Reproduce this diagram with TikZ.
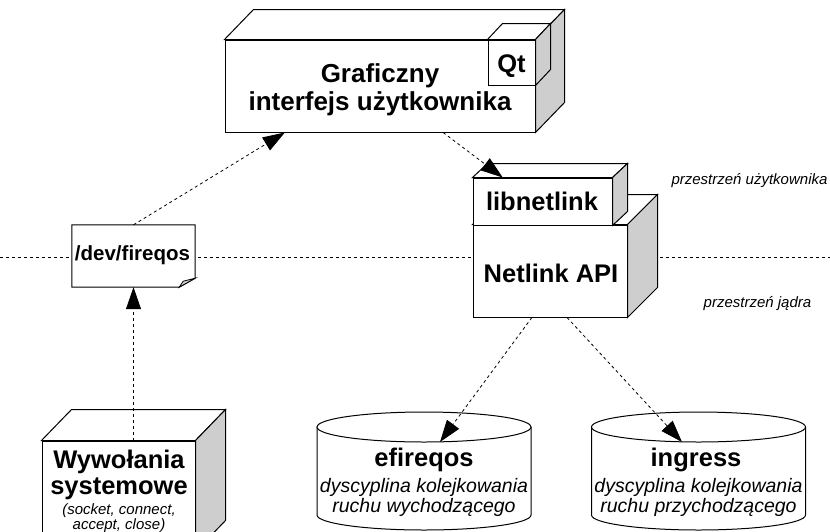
\documentclass[tikz,border=0pt]{standalone}
\usepackage{fontspec}
\setmainfont{Liberation Sans}
\usetikzlibrary{arrows.meta,calc}
\definecolor{sidegray}{RGB}{206,206,206}
\tikzset{
  face/.style={draw=black, line width=1pt, fill=white, line join=miter},
  sideface/.style={draw=black, line width=1pt, fill=sidegray, line join=miter},
  front/.style={draw=black, line width=1pt, fill=white, inner sep=0pt, rectangle},
  flow/.style={draw=black, line width=0.8pt, dash pattern=on 3pt off 3pt,
    -{Triangle[length=22pt,width=15pt]}},
  divider/.style={draw=black, line width=0.8pt, dash pattern=on 3.3pt off 2.7pt},
  bigtext/.style={font=\fontsize{25.5}{28}\selectfont\bfseries, inner sep=0pt, anchor=base},
  midtext/.style={font=\fontsize{20.5}{24}\selectfont\bfseries, inner sep=0pt, anchor=base},
  desc/.style={font=\fontsize{19.5}{22}\selectfont\itshape, inner sep=0pt, anchor=base},
  small/.style={font=\fontsize{15}{16}\selectfont\itshape, inner sep=0pt, anchor=base},
}
\begin{document}
\begin{tikzpicture}[x=1pt,y=-1pt]
\useasboundingbox (0,0) rectangle (830,531);

% boundary between user space and kernel space
\coordinate (wl) at (0,257);
\coordinate (wr) at (830,257);
\draw[divider] (wl) -- (wr);
\node[small] (user) at (749.5,184) {przestrzeń użytkownika};
\node[small] (kern) at (757.5,307) {przestrzeń jądra};

% GUI box
\node[front, minimum width=310pt, minimum height=92pt] (gui) at (380,86) {};
\draw[face] (gui.north west) -- ++(29,-30) -- ($(gui.north east)+(29,-30)$) -- (gui.north east) -- cycle;
\draw[sideface] (gui.north east) -- ++(29,-30) -- ($(gui.south east)+(29,-30)$) -- (gui.south east) -- cycle;
\node[bigtext, font=\fontsize{26}{28}\selectfont\bfseries] (guit1) at (380,82) {Graficzny};
\node[bigtext, font=\fontsize{26}{28}\selectfont\bfseries] (guit2) at (380,110) {interfejs użytkownika};

% Qt component
\node[front, minimum width=47pt, minimum height=45pt] (qt) at (511.5,62.5) {};
\draw[face] (qt.north west) -- ++(15,-16) -- ($(qt.north east)+(15,-16)$) -- (qt.north east) -- cycle;
\draw[sideface] (qt.north east) -- ++(15,-16) -- ($(qt.south east)+(15,-16)$) -- (qt.south east) -- cycle;
\node[bigtext] (qtt) at (511.5,72) {Qt};

% Netlink API box
\node[front, minimum width=154pt, minimum height=92pt] (api) at (550,271) {};
\draw[face] (api.north west) -- ++(30,-30) -- ($(api.north east)+(30,-30)$) -- (api.north east) -- cycle;
\draw[sideface] (api.north east) -- ++(30,-30) -- ($(api.south east)+(30,-30)$) -- (api.south east) -- cycle;
\node[bigtext] (apit) at (551,282) {Netlink API};

% libnetlink box
\node[front, minimum width=139pt, minimum height=47pt] (lib) at (542.5,201.5) {};
\draw[face] (lib.north west) -- ++(15,-14) -- ($(lib.north east)+(15,-14)$) -- (lib.north east) -- cycle;
\draw[sideface] (lib.north east) -- ++(15,-14) -- ($(lib.south east)+(15,-14)$) -- (lib.south east) -- cycle;
\node[bigtext] (libt) at (542,210) {libnetlink};

% /dev/fireqos note
\node[inner sep=0pt, minimum width=123pt, minimum height=62pt] (dev) at (133.5,256) {};
\draw[face] (dev.north west) -- (dev.north east) -- ($(dev.south east)+(0,-9)$)
  -- ($(dev.south east)+(-16,0)$) -- (dev.south west) -- cycle;
\draw[sideface, line width=0.8pt] ($(dev.south east)+(0,-9)$) -- ($(dev.south east)+(-16,0)$)
  -- ($(dev.south east)+(-12,-6)$) -- cycle;
\node[midtext] (devt) at (132.5,260) {/dev/fireqos};

% system calls box
\node[front, minimum width=153pt, minimum height=110pt] (wy) at (118.5,496) {};
\draw[face] (wy.north west) -- ++(30,-31) -- ($(wy.north east)+(30,-31)$) -- (wy.north east) -- cycle;
\draw[sideface] (wy.north east) -- ++(30,-31) -- ($(wy.south east)+(30,-31)$) -- (wy.south east) -- cycle;
\node[bigtext] (wyt1) at (119,468) {Wywołania};
\node[bigtext] (wyt2) at (119,494) {systemowe};
\node[small] (wyt3) at (119,514) {(socket, connect,};
\node[small] (wyt4) at (119,529) {accept, close)};

% queueing disciplines (cylinders)
\coordinate (efq) at (424,427);
\draw[face] ($(efq)+(-107,0)$) -- ($(efq)+(-107,88)$)
  arc[start angle=180, end angle=360, x radius=107pt, y radius=15pt] -- ($(efq)+(107,0)$);
\draw[face] (efq) ellipse[x radius=107pt, y radius=15pt];
\node[bigtext] (efqt) at (424,466) {efireqos};
\node[desc] (efqd1) at (424,492) {dyscyplina kolejkowania};
\node[desc] (efqd2) at (424,512) {ruchu wychodzącego};

\coordinate (ing) at (698.5,427);
\draw[face] ($(ing)+(-107,0)$) -- ($(ing)+(-107,88)$)
  arc[start angle=180, end angle=360, x radius=107pt, y radius=15pt] -- ($(ing)+(107,0)$);
\draw[face] (ing) ellipse[x radius=107pt, y radius=15pt];
\node[bigtext] (ingt) at (696,466) {ingress};
\node[desc] (ingd1) at (698.5,492) {dyscyplina kolejkowania};
\node[desc] (ingd2) at (698.5,512) {ruchu przychodzącego};

% dependencies
\draw[flow] (dev.north) -- ($(gui.south west)!0.194!(gui.south east)$);
\draw[flow] ($(gui.south west)!0.703!(gui.south east)$) -- ($(lib.north west)!0.216!(lib.north east)$);
\draw[flow] (dev.south |- wy.north) -- (dev.south);
\draw[flow] ($(api.south west)!0.383!(api.south east)$) -- ($(efq)+(16,15)$);
\draw[flow] ($(api.south west)!0.61!(api.south east)$) -- ($(ing)+(-16.5,15)$);
\end{tikzpicture}
\end{document}
